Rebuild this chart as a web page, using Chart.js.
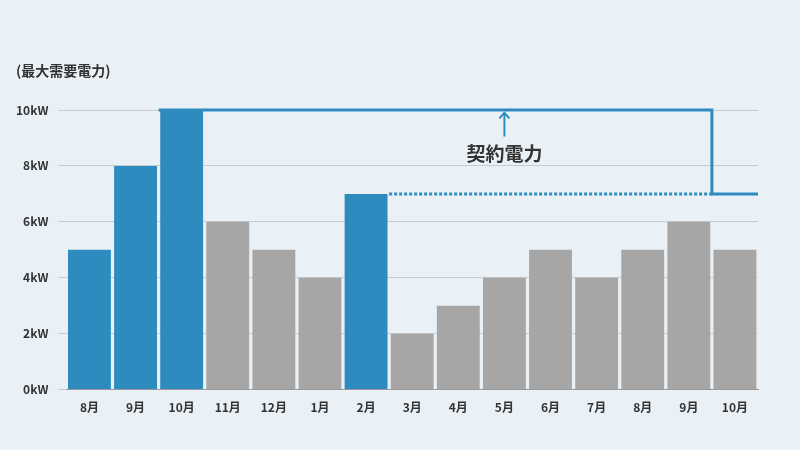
<!DOCTYPE html>
<html><head><meta charset="utf-8">
<script src="https://cdn.jsdelivr.net/npm/chart.js@4"></script>
<style>html,body{margin:0;background:#eaf1f6}#w{width:800px;height:450px}</style>
</head><body><div id="w"><canvas id="c"></canvas></div>
<script>
const categories=['8月','9月','10月','11月','12月','1月','2月','3月','4月','5月','6月','7月','8月','9月','10月'];
const demand=[5,8,10,6,5,4,7,2,3,4,5,4,5,6,5];
const highlight=[true,true,true,false,false,false,true,false,false,false,false,false,false,false,false];
const yTicks=[0,2,4,6,8,10];
const contractLabel='契約電力';
const FONT='"Noto Sans CJK JP","Noto Sans",sans-serif';
const plug={id:'contract',afterDatasetsDraw(ch){
 const c=ch.ctx,x=ch.scales.x,y=ch.scales.y;
 const step=x.getPixelForValue(1)-x.getPixelForValue(0);
 const L=i=>x.getPixelForValue(i)-step/2,R=i=>x.getPixelForValue(i)+step/2;
 c.save();c.strokeStyle='#2e8bbf';c.lineWidth=3;
 c.beginPath();c.moveTo(L(2),y.getPixelForValue(10));c.lineTo(L(14),y.getPixelForValue(10));
 c.lineTo(L(14),y.getPixelForValue(7));c.lineTo(ch.chartArea.right,y.getPixelForValue(7));c.stroke();
 c.setLineDash([3,2]);c.beginPath();c.moveTo(R(6),y.getPixelForValue(7));c.lineTo(L(14),y.getPixelForValue(7));c.stroke();
 c.setLineDash([]);c.lineWidth=2;const ax=x.getPixelForValue(9);
 c.beginPath();c.moveTo(ax,y.getPixelForValue(9.05));c.lineTo(ax,y.getPixelForValue(9.9));c.stroke();
 c.beginPath();c.moveTo(ax-5,y.getPixelForValue(9.7));c.lineTo(ax,y.getPixelForValue(9.9));c.lineTo(ax+5,y.getPixelForValue(9.7));c.stroke();
 c.fillStyle='#333';c.font='bold 19px '+FONT;c.textAlign='center';c.textBaseline='middle';
 c.fillText(contractLabel,ax,y.getPixelForValue(8.45));
 c.font='bold 14px '+FONT;c.textAlign='left';c.fillText('(最大需要電力)',16,71);
 c.restore();}};
new Chart(document.getElementById('c'),{type:'bar',
 data:{labels:categories,datasets:[{data:demand,backgroundColor:highlight.map(h=>h?'#2e8bbf':'#a6a6a6'),barPercentage:1,categoryPercentage:0.93}]},
 options:{responsive:true,maintainAspectRatio:false,animation:false,
  layout:{padding:{top:110,right:42,left:6,bottom:32}},
  plugins:{legend:{display:false},tooltip:{enabled:false}},
  scales:{x:{grid:{display:false},border:{color:'#999'},ticks:{color:'#333',font:{family:FONT,weight:'bold',size:12}}},
   y:{min:0,max:10,afterBuildTicks(a){a.ticks=yTicks.map(v=>({value:v}));},grid:{color:'#c5ccd2'},border:{display:false},
    ticks:{color:'#333',padding:10,font:{family:FONT,weight:'bold',size:12},callback:v=>v+'kW'}}}},
 plugins:[plug]});
</script></body></html>
